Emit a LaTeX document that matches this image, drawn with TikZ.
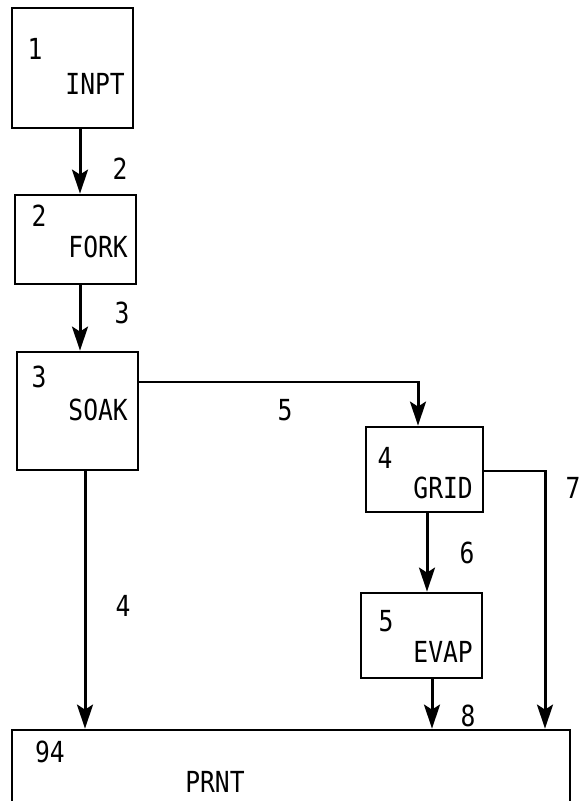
\documentclass[tikz,border=0pt]{standalone}
\usepackage{fontspec}
\usetikzlibrary{arrows.meta,calc}
\newfontfamily\lblfont[FakeStretch=0.85]{DejaVu Sans Mono}
\begin{document}
\begin{tikzpicture}[x=1pt,y=-1pt,
  blk/.style={draw,line width=2.8pt,inner sep=0pt},
  txt/.style={font=\lblfont\fontsize{29}{29}\selectfont,inner sep=0pt},
  flow/.style={line width=3pt,-{Stealth[length=24pt,width=16pt,inset=5pt]}},
  hline/.style={line width=2pt,line cap=rect}]
\path[use as bounding box, clip] (0,0) rectangle (582,801);
\fill[white] (0,0) rectangle (582,801);
% blocks
\node[blk,minimum width=121pt,minimum height=120pt] (inpt) at (72.5,68) {};
\node[blk,minimum width=121pt,minimum height=89pt] (fork) at (75.5,239.5) {};
\node[blk,minimum width=121pt,minimum height=118pt] (soak) at (77.5,411) {};
\node[blk,minimum width=117pt,minimum height=85pt] (grid) at (424.5,469.5) {};
\node[blk,minimum width=121pt,minimum height=85pt] (evap) at (421.5,635.5) {};
\node[blk,minimum width=558pt,minimum height=100pt] (prnt) at (291,780) {};
% block texts
\node[txt] (n1) at (35,49) {1};
\node[txt,anchor=east] (t1) at (125,84) {INPT};
\node[txt] (n2) at (39,216) {2};
\node[txt,anchor=east] (t2) at (128,247) {FORK};
\node[txt] (n3) at (39,377) {3};
\node[txt,anchor=east] (t3) at (128,410) {SOAK};
\node[txt] (n4) at (385,458) {4};
\node[txt,anchor=east] (t4) at (473,488) {GRID};
\node[txt] (n5) at (386,621) {5};
\node[txt,anchor=east] (t5) at (473,652) {EVAP};
\node[txt] (n94) at (50,752) {94};
\node[txt] (t94) at (215,782) {PRNT};
% connectors
\draw[flow] ([xshift=7.5pt]inpt.south) -- ([xshift=7.5pt]inpt.south |- fork.north);
\draw[flow] ([xshift=4.5pt]fork.south) -- ([xshift=4.5pt]fork.south |- soak.north);
\draw[flow] ([xshift=7.5pt]soak.south) -- ([xshift=7.5pt]soak.south |- prnt.north);
\coordinate (c5) at (418,382);
\draw[hline] (soak.east |- c5) -- (c5);
\draw[flow,line cap=rect] (c5) -- (c5 |- grid.north);
\coordinate (c7) at (545,471);
\draw[hline] (grid.east |- c7) -- (c7);
\draw[flow,line cap=rect] (c7) -- (c7 |- prnt.north);
\draw[flow] ([xshift=2.5pt]grid.south) -- ([xshift=2.5pt]grid.south |- evap.north);
\draw[flow] ([xshift=10.5pt]evap.south) -- ([xshift=10.5pt]evap.south |- prnt.north);
% connector labels
\node[txt] (l2) at (120,169) {2};
\node[txt] (l3) at (122,313) {3};
\node[txt] (l5) at (285,410) {5};
\node[txt] (l7) at (573,488) {7};
\node[txt] (l6) at (467,553) {6};
\node[txt] (l4) at (123,606) {4};
\node[txt] (l8) at (468,716) {8};
\end{tikzpicture}
\end{document}
